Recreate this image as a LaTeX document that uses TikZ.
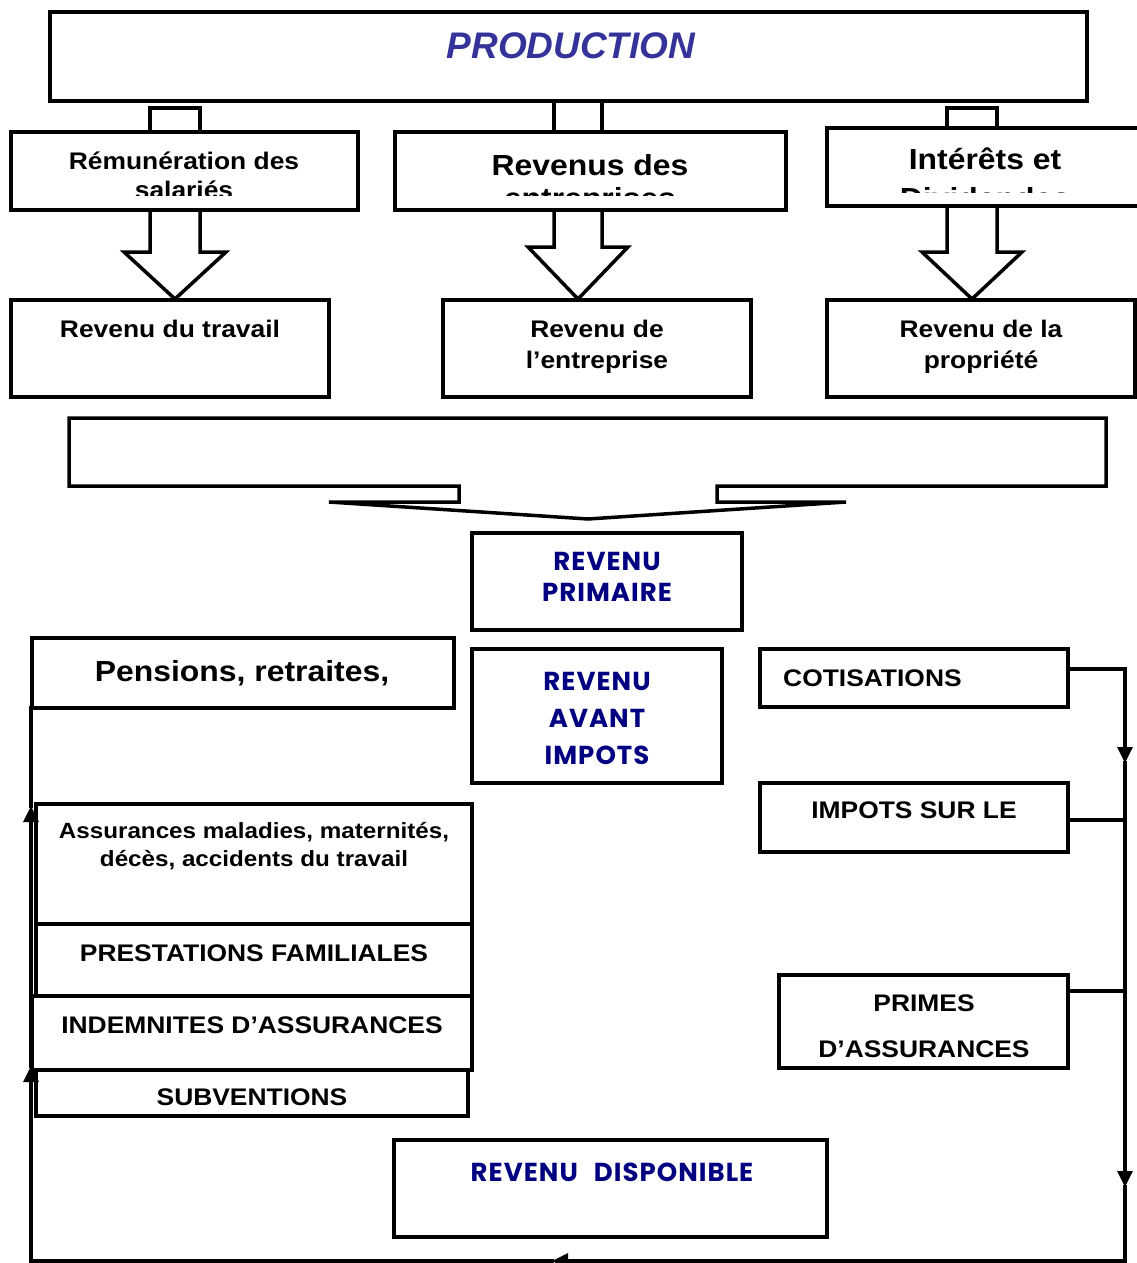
\documentclass[tikz,border=0pt]{standalone}
\usepackage{fontspec}
\setmainfont{Liberation Sans}[FakeStretch=1.1]
\newfontfamily\prodfont{Liberation Sans}
\newfontfamily\comicfont{Poppins}[LetterSpace=4]
\usetikzlibrary{arrows.meta}
\definecolor{prodblue}{RGB}{51,51,153}
\definecolor{navyblue}{RGB}{0,0,128}
\newcommand\bx[5]{\node[box, minimum width={(#4)-(#2)}, minimum height={(#5)-(#3)}] (#1) at (#2,#3) {};}
\begin{document}
\begin{tikzpicture}[x=1pt,y=-1pt,
  box/.style={draw, line width=3.5pt, inner sep=0pt, outer sep=0pt, anchor=north west},
  shapeline/.style={line width=3.5pt, line join=miter},
  conn/.style={line width=3.2pt, line cap=rect},
  tip/.style={-{Triangle[length=16pt,width=15pt]}},
  txt/.style={inner sep=0pt, anchor=base, font=\bfseries\fontsize{24}{28}\selectfont},
  bigtxt/.style={inner sep=0pt, anchor=base, font=\bfseries\fontsize{29}{34}\selectfont},
  smalltxt/.style={inner sep=0pt, anchor=base, font=\bfseries\fontsize{22}{26}\selectfont},
  bluetxt/.style={inner sep=0pt, anchor=base, text=navyblue, font=\comicfont\bfseries\fontsize{26}{30}\selectfont},
]
\useasboundingbox (0,0) rectangle (1137,1263);

% PRODUCTION
\bx{prod}{50}{12}{1087}{101}
\node[inner sep=0pt, anchor=base, text=prodblue, font=\prodfont\bfseries\itshape\fontsize{37}{42}\selectfont] (prodt) at (571,59) {PRODUCTION};

% small stems under PRODUCTION
\draw[shapeline] (150,132) -- (150,108) -- (200,108) -- (200,132);
\draw[shapeline] (554,101) -- (554,132);
\draw[shapeline] (602,101) -- (602,132);
\draw[shapeline] (947,128) -- (947,108) -- (997,108) -- (997,128);

% second row boxes
\bx{rem}{11}{132}{358}{210}
\bx{rev}{395}{132}{786}{210}
\bx{int}{827}{128}{1150}{206}
\begin{scope}
  \clip (11,132) rectangle (358,195);
  \node[txt] (remt1) at (184,169) {Rémunération des};
  \node[txt] (remt2) at (184,198) {salariés};
\end{scope}
\begin{scope}
  \clip (395,132) rectangle (786,195);
  \node[bigtxt] (revt1) at (590,175) {Revenus des};
  \node[bigtxt] (revt2) at (590,208) {entreprises};
\end{scope}
\begin{scope}
  \clip (827,128) rectangle (1150,192);
  \node[bigtxt] (intt1) at (985,169) {Intérêts et};
  \node[bigtxt] (intt2) at (985,208) {Dividendes};
\end{scope}

% hollow arrows
\draw[shapeline] (150,210) -- (150,252) -- (124,252) -- (175,299) -- (226,252) -- (200,252) -- (200,210);
\draw[shapeline] (554,210) -- (554,247) -- (528,247) -- (578,299) -- (628,247) -- (602,247) -- (602,210);
\draw[shapeline] (947,206) -- (947,252) -- (922,252) -- (972,299) -- (1022,252) -- (997,252) -- (997,206);

% third row boxes
\bx{trav}{11}{300}{329}{397}
\bx{entr}{443}{300}{751}{397}
\bx{prop}{827}{300}{1135}{397}
\node[txt] (travt) at (170,337) {Revenu du travail};
\node[txt] (entrt1) at (597,337) {Revenu de};
\node[txt] (entrt2) at (597,368) {l’entreprise};
\node[txt] (propt1) at (981,337) {Revenu de la};
\node[txt] (propt2) at (981,368) {propriété};

% funnel shape
\draw[shapeline] (459,486) -- (69,486) -- (69,418) -- (1106,418) -- (1106,486) -- (717,486) -- (717,502) -- (846,502) -- (588,519) -- (329,502) -- (459,502) -- cycle;

% REVENU PRIMAIRE
\bx{prim}{472}{533}{742}{630}
\node[bluetxt] (primt1) at (607,570) {REVENU};
\node[bluetxt] (primt2) at (607,601) {PRIMAIRE};

% REVENU AVANT IMPOTS
\bx{avant}{472}{649}{722}{783}
\node[bluetxt] (avt1) at (597,690) {REVENU};
\node[bluetxt] (avt2) at (597,727) {AVANT};
\node[bluetxt] (avt3) at (597,764) {IMPOTS};

% left column
\bx{pen}{32}{638}{454}{708}
\node[bigtxt] (pent) at (242,681) {Pensions, retraites,};
\bx{assu}{36}{804}{472}{924}
\node[smalltxt] (assut1) at (254,838) {Assurances maladies, maternités,};
\node[smalltxt] (assut2) at (254,866) {décès, accidents du travail};
\bx{presta}{36}{924}{472}{996}
\node[txt] (prestat) at (254,961) {PRESTATIONS FAMILIALES};
\bx{indem}{32}{996}{472}{1070}
\node[txt] (indemt) at (252,1033) {INDEMNITES D’ASSURANCES};
\bx{subv}{36}{1070}{468}{1116}
\node[txt] (subvt) at (252,1105) {SUBVENTIONS};

% right column
\bx{cot}{760}{649}{1068}{707}
\node[txt, anchor=base west] (cott) at (783,686) {COTISATIONS};
\bx{imp}{760}{783}{1068}{852}
\node[txt] (impt) at (914,818) {IMPOTS SUR LE};
\bx{pri}{779}{975}{1068}{1068}
\node[txt] (prit1) at (924,1011) {PRIMES};
\node[txt] (prit2) at (924,1057) {D’ASSURANCES};

% REVENU DISPONIBLE
\bx{disp}{394}{1140}{827}{1237}
\node[bluetxt] (dispt) at (612,1181) {REVENU\hspace{16pt}DISPONIBLE};

% circuit connectors
\coordinate (rtop) at (1125,669);
\coordinate (ra1) at (1125,763);
\coordinate (ra2) at (1125,1187);
\coordinate (rbot) at (1125,1261);
\coordinate (ba) at (552,1261);
\coordinate (lbot) at (31,1261);
\coordinate (la2) at (31,1066);
\coordinate (la1) at (31,806);
\coordinate (cj) at ([yshift=9pt]cot.east);
\coordinate (ij) at ([yshift=-2.5pt]imp.east);
\coordinate (pj) at ([yshift=30.5pt]pri.east);
\draw[conn] (cj) -- (rtop);
\draw[conn] (ij) -- (ij -| rtop);
\draw[conn] (pj) -- (pj -| rtop);
\draw[conn, tip] (rtop) -- (ra1);
\draw[conn, tip] (ra1) -- (ra2);
\draw[conn] (ra2) -- (rbot);
\draw[conn, tip] (rbot) -- (ba);
\draw[conn] (ba) -- (lbot);
\draw[conn, tip] (lbot) -- (la2);
\draw[conn, tip] (la2) -- (la1);
\draw[conn] (la1) -- (la1 |- pen.south);
\end{tikzpicture}
\end{document}
